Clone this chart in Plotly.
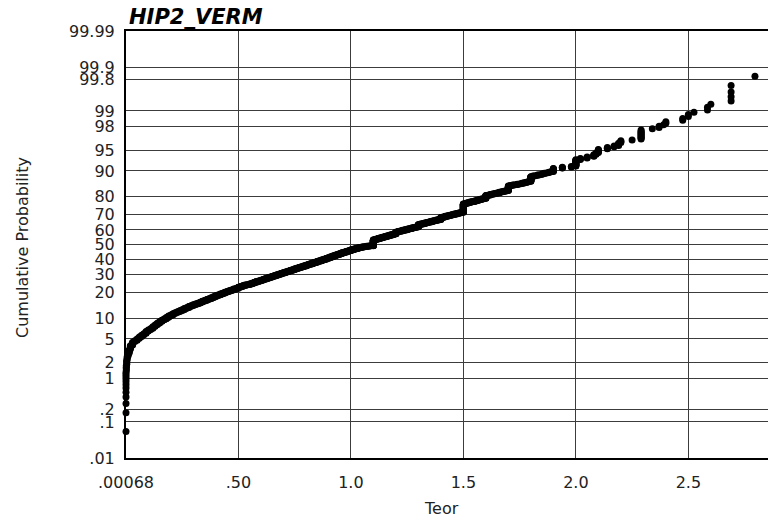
import plotly.graph_objects as go
from statistics import NormalDist

# ---- data: distinct Teor values and how many samples share each ----
teor_values = [
    0.00068, 0.002, 0.004, 0.006, 0.01, 0.015, 0.02, 0.03,
    0.04, 0.05, 0.06, 0.07, 0.08, 0.09,
    0.10, 0.11, 0.12, 0.13, 0.14, 0.15, 0.16, 0.17, 0.18, 0.19,
    0.20, 0.21, 0.22, 0.23, 0.24, 0.25, 0.26, 0.27, 0.28, 0.29,
    0.30, 0.31, 0.32, 0.33, 0.34, 0.35, 0.36, 0.37, 0.38, 0.39,
    0.40, 0.41, 0.42, 0.43, 0.44, 0.45, 0.46, 0.47, 0.48, 0.49,
    0.50, 0.51, 0.52, 0.53, 0.54, 0.55, 0.56, 0.57, 0.58, 0.59,
    0.60, 0.61, 0.62, 0.63, 0.64, 0.65, 0.66, 0.67, 0.68, 0.69,
    0.70, 0.71, 0.72, 0.73, 0.74, 0.75, 0.76, 0.77, 0.78, 0.79,
    0.80, 0.81, 0.82, 0.83, 0.84, 0.85, 0.86, 0.87, 0.88, 0.89,
    0.90, 0.91, 0.92, 0.93, 0.94, 0.95, 0.96, 0.97, 0.98, 0.99,
    1.00, 1.01, 1.02, 1.03, 1.04, 1.05, 1.06, 1.07, 1.08, 1.09,
    1.10, 1.11, 1.12, 1.13, 1.14, 1.15, 1.16, 1.17, 1.18, 1.19,
    1.20, 1.21, 1.22, 1.23, 1.24, 1.25, 1.26, 1.27, 1.28, 1.29,
    1.30, 1.31, 1.32, 1.33, 1.34, 1.35, 1.36, 1.37, 1.38, 1.39,
    1.40, 1.41, 1.42, 1.43, 1.44, 1.45, 1.46, 1.47, 1.48, 1.49,
    1.50, 1.51, 1.52, 1.53, 1.54, 1.55, 1.56, 1.57, 1.58, 1.59,
    1.60, 1.61, 1.62, 1.63, 1.64, 1.65, 1.66, 1.67, 1.68, 1.69,
    1.70, 1.71, 1.72, 1.73, 1.74, 1.75, 1.76, 1.77, 1.78, 1.79,
    1.80, 1.81, 1.82, 1.83, 1.84, 1.85, 1.86, 1.87, 1.88, 1.89,
    1.90, 1.94, 1.98, 2.00, 2.02, 2.05, 2.08, 2.09, 2.10, 2.14,
    2.17, 2.19, 2.20, 2.25, 2.29, 2.34, 2.37, 2.39, 2.40, 2.475,
    2.50, 2.525, 2.585, 2.60, 2.69, 2.796, 3.05,
]
teor_counts = [
    12, 4, 4, 3, 3, 4, 5, 5,
    2, 3, 3, 3, 3, 4,
    3, 3, 4, 4, 4, 4, 4, 3, 4, 4,
    3, 4, 3, 3, 3, 3, 4, 3, 4, 3,
    3, 3, 3, 3, 4, 3, 4, 3, 4, 4,
    4, 3, 4, 4, 4, 3, 4, 3, 4, 3,
    6, 3, 4, 3, 2, 3, 4, 4, 4, 3,
    4, 4, 4, 4, 4, 4, 4, 4, 4, 4,
    4, 4, 4, 4, 4, 5, 4, 4, 4, 4,
    5, 4, 4, 5, 4, 5, 4, 5, 4, 5,
    5, 5, 5, 5, 4, 5, 5, 4, 5, 4,
    5, 4, 4, 4, 3, 3, 2, 2, 2, 1,
    37, 4, 4, 4, 4, 4, 4, 4, 4, 4,
    11, 4, 3, 4, 3, 4, 3, 4, 3, 3,
    14, 3, 3, 4, 3, 3, 4, 3, 3, 3,
    11, 3, 4, 3, 3, 3, 3, 3, 3, 3,
    43, 3, 3, 3, 2, 3, 3, 3, 3, 2,
    13, 2, 3, 2, 2, 2, 3, 2, 2, 2,
    18, 2, 2, 1, 2, 1, 2, 2, 2, 2,
    16, 2, 1, 2, 1, 2, 2, 1, 2, 1,
    9, 3, 2, 15, 3, 3, 4, 3, 6, 3,
    2, 4, 3, 1, 10, 1, 2, 1, 2, 2,
    2, 1, 2, 1, 4, 1, 1,
]

prob_ticks = [0.01, 0.1, 0.2, 1, 2, 5, 10, 20, 30, 40, 50, 60, 70, 80, 90, 95, 98, 99, 99.8, 99.9, 99.99]
prob_labels = [".01", ".1", ".2", "1", "2", "5", "10", "20", "30", "40", "50", "60", "70", "80",
               "90", "95", "98", "99", "99.8", "99.9", "99.99"]
x_ticks = [0.00068, 0.5, 1.0, 1.5, 2.0, 2.5]
x_labels = [".00068", ".50", "1.0", "1.5", "2.0", "2.5"]

# ---- cumulative probability (normal probability scale) ----
nd = NormalDist()
n = sum(teor_counts)
xs, zs = [], []
rank = 0
for v, c in zip(teor_values, teor_counts):
    for _ in range(c):
        rank += 1
        xs.append(v)
        zs.append(nd.inv_cdf((rank - 0.5) / n))

ytick_z = [nd.inv_cdf(p / 100.0) for p in prob_ticks]
z_lo, z_hi = ytick_z[0], ytick_z[-1]

W, H = 768, 524
L, R, T, B = 126, 0, 31, 66
pw, ph = W - L - R, H - T - B
x0 = 0.00068
x1 = x0 + pw / 225.0

def px(xp):
    return (xp - L) / pw

def py(yp):
    return (H - B - yp) / ph

FONT = "DejaVu Sans"

fig = go.Figure()
fig.add_trace(go.Scatter(
    x=xs, y=zs, mode="markers",
    marker=dict(color="black", size=7, line=dict(width=0)),
    cliponaxis=False, hoverinfo="skip", showlegend=False,
))

fig.update_layout(
    width=W, height=H,
    margin=dict(l=L, r=R, t=T, b=B, pad=0),
    paper_bgcolor="white", plot_bgcolor="white",
    showlegend=False,
    xaxis=dict(
        range=[x0, x1], tickvals=x_ticks, ticktext=x_labels,
        showgrid=True, gridcolor="#3c3c3c", gridwidth=1,
        zeroline=False, showline=True, linecolor="black", linewidth=2, mirror=True,
        ticks="", ticklabelstandoff=9,
        tickfont=dict(family=FONT, size=16, color="#222"),
    ),
    yaxis=dict(
        range=[z_lo, z_hi], tickvals=ytick_z, ticktext=prob_labels,
        showgrid=True, gridcolor="#3c3c3c", gridwidth=1,
        zeroline=False, showline=True, linecolor="black", linewidth=2, mirror=False,
        ticks="", ticklabelstandoff=6,
        tickfont=dict(family=FONT, size=16, color="#222"),
    ),
    annotations=[
        dict(text="<b><i>HIP2_VERM</i></b>", x=px(127), y=py(16.5), xref="paper", yref="paper",
             xanchor="left", yanchor="middle", showarrow=False,
             font=dict(family=FONT, size=21, color="black")),
        dict(text="Cumulative Probability", x=px(22), y=py(248), xref="paper", yref="paper",
             xanchor="center", yanchor="middle", textangle=-90, showarrow=False,
             font=dict(family=FONT, size=16, color="#222")),
        dict(text="Teor", x=px(441), y=py(509), xref="paper", yref="paper",
             xanchor="center", yanchor="middle", showarrow=False,
             font=dict(family=FONT, size=16, color="#222")),
    ],
)

fig.write_html("out.html")
